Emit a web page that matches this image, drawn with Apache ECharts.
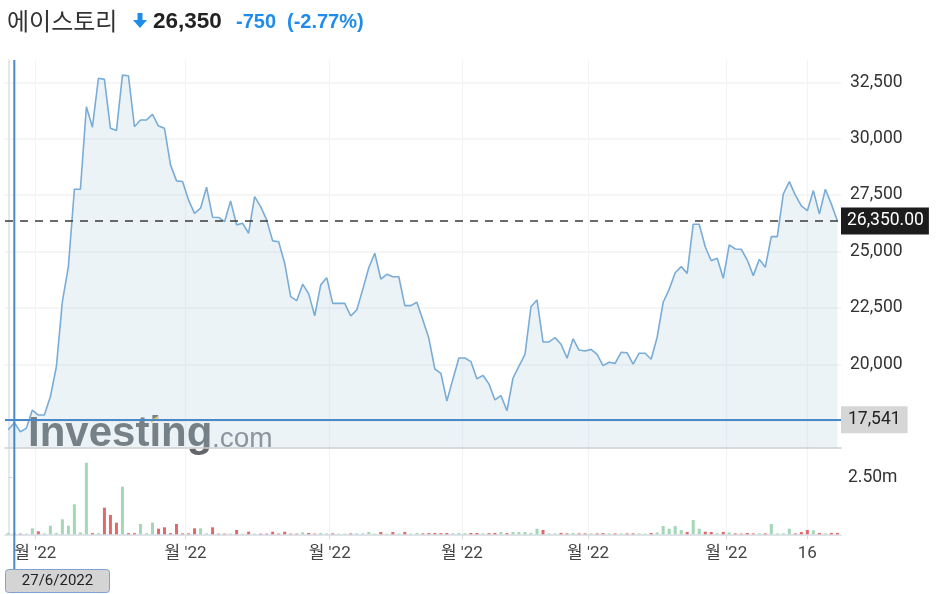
<!DOCTYPE html>
<html><head><meta charset="utf-8">
<script src="https://cdn.jsdelivr.net/npm/echarts@6/dist/echarts.min.js"></script>
<style>html,body{margin:0;padding:0;background:#fff}#c{width:938px;height:594px}</style>
</head><body><div id="c"></div>
<script>
const stockName = '에이스토리';
const lastPrice = 26350;
const priceChange = -750;
const priceChangePct = -2.77;
const crossValue = 17541;
const crossIndex = 1;
const crossDate = '27/6/2022';

const prices = [
17100,17410,17010,17160,17970,17750,17750,18560,19890,22780,
24330,27760,27760,31420,30510,32680,32630,30460,30360,32820,
32790,30530,30830,30830,31080,30560,30460,28840,28130,28100,
27280,26690,26920,27850,26520,26510,26320,27240,26180,26250,
25810,27430,26990,26400,25470,25430,24480,23000,22820,23550,
23120,22150,23520,23840,22700,22700,22700,22140,22410,23320,
24280,24920,23780,23990,23880,23880,22600,22600,22750,21960,
21150,19790,19600,18370,19340,20280,20280,20120,19350,19510,
19130,18420,18610,17940,19380,19920,20440,22550,22850,20990,
20990,21180,20890,20270,21130,20630,20590,20660,20440,19940,
20090,20040,20530,20510,20010,20490,20490,20220,21200,22750,
23320,24060,24330,24030,26210,26210,25210,24590,24700,23810,
25290,25110,25100,24620,23930,24650,24300,25660,25660,27550,
28100,27500,27020,26810,27700,26660,27760,27100,26350
];

const volumes = [
60000,60000,30000,30000,263000,130000,40000,377000,60000,658000,
377000,1316000,80000,3140000,50000,50000,1167000,847000,509000,2088000,
50000,50000,452000,50000,509000,246000,307000,50000,452000,40000,
40000,263000,263000,40000,307000,30000,30000,30000,190000,30000,
115000,30000,30000,30000,115000,30000,115000,30000,30000,88000,
60000,30000,60000,40000,40000,30000,30000,40000,40000,40000,
100000,30000,100000,30000,100000,30000,100000,30000,60000,40000,
50000,60000,50000,60000,50000,60000,50000,60000,60000,40000,
50000,60000,100000,50000,100000,100000,100000,60000,246000,190000,
40000,40000,60000,40000,60000,40000,40000,40000,40000,50000,
40000,40000,40000,40000,40000,40000,30000,60000,80000,364000,
246000,364000,190000,100000,627000,246000,115000,100000,50000,100000,
80000,40000,30000,60000,40000,40000,40000,452000,40000,40000,
246000,40000,100000,190000,175000,60000,40000,60000,60000
];

const monthTickPos = [4.5, 29.5, 53.5, 75.5, 96.5, 119.5, 133];
const monthTickLabels = ["월 '22", "월 '22", "월 '22", "월 '22", "월 '22", "월 '22", "16"];
const priceTicks = [17500, 20000, 22500, 25000, 27500, 30000, 32500];
const priceLabels = [20000, 22500, 25000, 27500, 30000, 32500];
const volumeTicks = [2500000];
const volumeTickLabels = ['2.50m'];

const GREEN = '#a3d7b6', RED = '#e06a6a';
const chart = echarts.init(document.getElementById('c'), null, {renderer: 'canvas'});

const fmt = v => v.toLocaleString('en-US');
const xMin = -0.55, xMax = 138.6;
const gridLineColor = '#f1f3f6';

const option = {
  animation: false,
  backgroundColor: '#fff',
  grid: [
    {left: 5, top: 60, width: 836, height: 387.5},
    {left: 5, top: 448, width: 836, height: 86.3}
  ],
  xAxis: [
    {type: 'value', gridIndex: 0, min: xMin, max: xMax,
     axisLine: {show: true, onZero: false, lineStyle: {color: '#cfcfcf', width: 1.5}},
     axisTick: {show: false, customValues: monthTickPos},
     axisLabel: {show: false},
     splitLine: {show: true, lineStyle: {color: gridLineColor, width: 1.2}}},
    {type: 'value', gridIndex: 1, min: xMin, max: xMax,
     axisLine: {show: true, onZero: false, lineStyle: {color: '#d5dbe3', width: 1.5}},
     axisTick: {show: true, length: 5, customValues: monthTickPos, lineStyle: {color: '#d5dbe3'}},
     axisLabel: {show: true, customValues: monthTickPos, margin: 11,
       fontSize: 17, fontFamily: "Roboto, 'Noto Sans CJK KR'", color: '#444',
       formatter: v => monthTickLabels[monthTickPos.indexOf(v)]},
     splitLine: {show: true, lineStyle: {color: gridLineColor, width: 1.2}}}
  ],
  yAxis: [
    {type: 'value', gridIndex: 0, position: 'right', min: 16310, max: 33490,
     axisLine: {show: true, lineStyle: {color: '#dde2e8', width: 1.5}},
     axisTick: {show: false, customValues: priceTicks},
     axisLabel: {show: true, customValues: priceLabels, margin: 9, fontSize: 17.5,
       fontFamily: 'Roboto', color: '#333', formatter: v => fmt(v)},
     splitLine: {show: true, lineStyle: {color: '#f2f2f2', width: 1.5}}},
    {type: 'value', gridIndex: 1, position: 'right', min: 0, max: 3785000,
     axisLine: {show: true, lineStyle: {color: '#dde2e8', width: 1.5}},
     axisTick: {show: true, length: 4, customValues: volumeTicks, lineStyle: {color: '#cfd5dc'}},
     axisLabel: {show: true, customValues: volumeTicks, margin: 7, fontSize: 17.5,
       fontFamily: 'Roboto', color: '#333',
       formatter: v => volumeTickLabels[volumeTicks.indexOf(v)]},
     splitLine: {show: false}}
  ],
  series: [
    {type: 'line', xAxisIndex: 0, yAxisIndex: 0, z: 3,
     data: prices.map((v, i) => [i, v]),
     showSymbol: false, symbol: 'none',
     lineStyle: {color: '#79acd7', width: 1.6},
     areaStyle: {color: 'rgba(178,204,224,0.35)'},
     markLine: {
       silent: true, symbol: 'none', animation: false,
       data: [
         {yAxis: lastPrice,
          lineStyle: {type: [8, 7], color: '#3a3a3a', width: 1.5},
          label: {show: true, position: 'end', distance: 0,
            formatter: () => lastPrice.toLocaleString('en-US', {minimumFractionDigits: 2}),
            backgroundColor: '#1c1c1c', color: '#fff', fontSize: 17.5, fontFamily: 'Roboto',
            padding: [5, 5, 4, 6]}},
         {yAxis: crossValue,
          lineStyle: {type: 'solid', color: '#4a89c8', width: 2},
          label: {show: true, position: 'end', distance: 0,
            formatter: () => fmt(crossValue),
            backgroundColor: '#d6d6d6', color: '#222', fontSize: 17.5, fontFamily: 'Roboto',
            padding: [5, 7, 4, 7]}}
       ]
     }},
    {type: 'bar', xAxisIndex: 1, yAxisIndex: 1, barWidth: 3,
     data: volumes.map((v, i) => ({
       value: [i, v],
       itemStyle: {color: (i === 0 || prices[i] >= prices[i - 1]) ? GREEN : RED}
     }))}
  ]
};
chart.setOption(option);

const blue = '#1f8ceb';
const crossX = chart.convertToPixel({xAxisIndex: 0}, crossIndex);
const changeSign = priceChange < 0 ? '-' : '+';
chart.setOption({
  graphic: [
    {id: 'wm1', type: 'text', z: 0, x: 28, y: 434.5,
     style: {text: 'Investing', font: "bold 42px 'Liberation Sans', Arial", fill: '#63676b',
       verticalAlign: 'middle', align: 'left'}},
    {id: 'wm2', type: 'text', z: 0, x: 212, y: 439.3,
     style: {text: '.com', font: "28px 'Liberation Sans', Arial", fill: '#80848a',
       verticalAlign: 'middle', align: 'left'}},
    {id: 'wm3', type: 'polygon', z: 0,
     shape: {points: [[151, 420], [158, 416], [158, 419], [151, 423]]},
     style: {fill: '#f2c14e'}},
    {id: 't1', type: 'text', x: 7, y: 21,
     style: {text: stockName, font: "24px 'Noto Sans CJK KR'", fill: '#333',
       verticalAlign: 'middle', align: 'left'}},
    {id: 'arr', type: 'polygon',
     shape: {points: [[137.5, 13], [142.5, 13], [142.5, 20], [147, 20], [140, 28], [133, 20], [137.5, 20]]},
     style: {fill: blue}},
    {id: 't2', type: 'text', x: 153, y: 22,
     style: {text: fmt(lastPrice), font: "bold 22.5px 'Liberation Sans', Arial", fill: '#222',
       verticalAlign: 'middle', align: 'left'}},
    {id: 't3', type: 'text', x: 236, y: 22,
     style: {text: changeSign + fmt(Math.abs(priceChange)), font: "bold 20px 'Liberation Sans', Arial", fill: blue,
       verticalAlign: 'middle', align: 'left'}},
    {id: 't4', type: 'text', x: 287, y: 22,
     style: {text: '(' + changeSign + Math.abs(priceChangePct).toFixed(2) + '%)', font: "bold 20px 'Liberation Sans', Arial", fill: blue,
       verticalAlign: 'middle', align: 'left'}},
    {id: 'cx', type: 'line', z: 100,
     shape: {x1: crossX, y1: 60, x2: crossX, y2: 570},
     style: {stroke: '#4a89c8', lineWidth: 2}},
    {id: 'cbox', type: 'rect', z: 101,
     shape: {x: 5.5, y: 569.5, width: 104, height: 23, r: 3},
     style: {fill: '#d4d4d4', stroke: '#7fa3cf', lineWidth: 1}},
    {id: 'ctext', type: 'text', z: 102, x: 57.5, y: 581,
     style: {text: crossDate, font: "15px Roboto", fill: '#222', align: 'center', verticalAlign: 'middle'}}
  ]
});
</script>
</body></html>
